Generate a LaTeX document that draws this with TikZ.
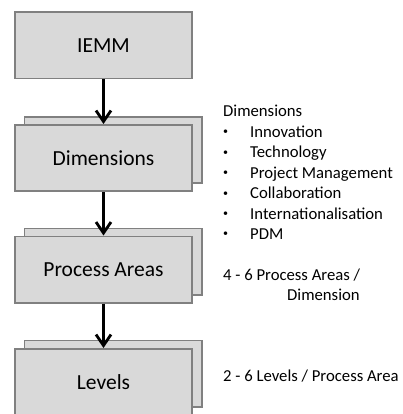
\documentclass[tikz,border=0pt]{standalone}
\usepackage{fontspec}
\setmainfont{Carlito}
\usetikzlibrary{arrows.meta}
\definecolor{boxfill}{HTML}{D9D9D9}
\definecolor{boxline}{HTML}{808080}
\tikzset{
  boxstyle/.style={draw=boxline, fill=boxfill, line width=1.6pt, inner sep=0pt,
    minimum width=177.4pt, minimum height=66.4pt, font=\fontsize{21.5}{24}\selectfont},
  arrowstyle/.style={line width=2.8pt, -{Straight Barb[length=11pt,width=15pt,line width=2.8pt]}},
  sidetext/.style={anchor=base west, inner sep=0pt, font=\fontsize{16.7}{20}\selectfont},
  bulletstyle/.style={anchor=base, inner sep=0pt, font=\fontsize{10}{12}\selectfont}
}
\begin{document}
\begin{tikzpicture}[x=1pt,y=-1pt]
\useasboundingbox (0,0) rectangle (403,414);
% back boxes
\node[boxstyle] (dimsb) at (113,150) {};
\node[boxstyle] (procb) at (113,261.5) {};
\node[boxstyle] (levb) at (113,373.5) {};
% front boxes
\node[boxstyle] (iemm) at (103.5,45.5) {IEMM};
\node[boxstyle] (dims) at (103.5,158) {Dimensions};
\node[boxstyle] (proc) at (103.5,269.5) {Process Areas};
\node[boxstyle] (lev) at (103.5,382) {Levels};
% arrows
\draw[arrowstyle] (iemm.south) -- (dims.north);
\draw[arrowstyle] (dims.south) -- (proc.north);
\draw[arrowstyle] (proc.south) -- (lev.north);
% side text
\node[sidetext] (dh) at (223,117) {Dimensions};
\foreach \t [count=\i] in {Innovation,Technology,Project Management,Collaboration,Internationalisation,PDM}{
  \node[bulletstyle] (b\i) at (225.5,117+20.4*\i-2.5) {•};
  \node[sidetext] (t\i) at (250,117+20.4*\i) {\t};
}
\node[sidetext] (pa1) at (223,280) {4 - 6 Process Areas /};
\node[sidetext] (pa2) at (287,300) {Dimension};
\node[sidetext] (lv) at (223,381.7) {2 - 6 Levels / Process Area};
\end{tikzpicture}
\end{document}
